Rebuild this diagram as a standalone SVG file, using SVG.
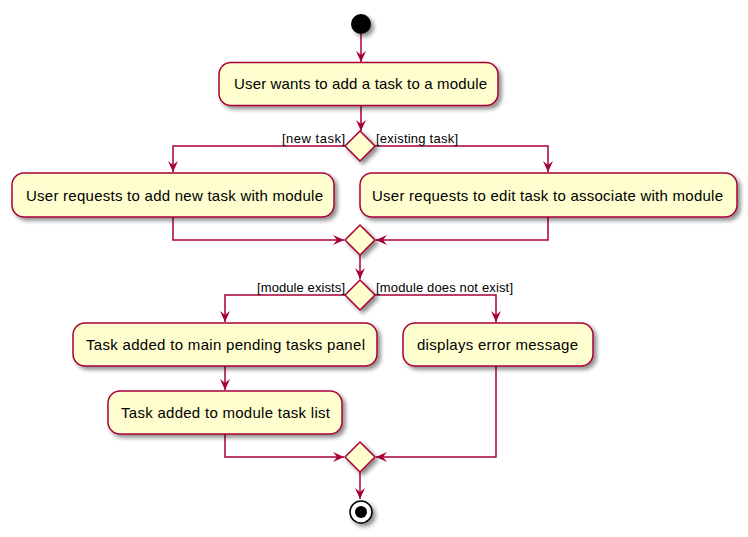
<svg xmlns="http://www.w3.org/2000/svg" width="748" height="537" viewBox="0 0 748 537">
<defs>
<filter id="sh" x="-20%" y="-20%" width="150%" height="160%">
<feGaussianBlur in="SourceAlpha" stdDeviation="2"/>
<feOffset dx="3" dy="3" result="b"/>
<feComponentTransfer in="b" result="c"><feFuncA type="linear" slope="0.45"/></feComponentTransfer>
<feMerge><feMergeNode in="c"/><feMergeNode in="SourceGraphic"/></feMerge>
</filter>
<marker id="ah" viewBox="0 0 11 10" refX="11" refY="5" markerWidth="11" markerHeight="10" markerUnits="userSpaceOnUse" orient="auto">
<path d="M0,0 L11,5 L0,10 L4,5 Z" fill="#A80036"/>
</marker>
</defs>
<style>
.n{fill:#FEFECE;stroke:#A80036;stroke-width:1.5;filter:url(#sh)}
.t{font-family:"Liberation Sans",Arial,sans-serif;font-size:15px;fill:#000;text-anchor:middle}
.l{font-family:"Liberation Sans",Arial,sans-serif;font-size:13px;fill:#000}
.c{fill:none;stroke:#A80036;stroke-width:1.5;marker-end:url(#ah)}
</style>
<rect width="748" height="537" fill="#FFFFFF"/>
<g id="connectors">
<path class="c" d="M361,34 L361,62"/>
<path class="c" d="M361,105 L361,131"/>
<path class="c" d="M345,146 L173,146 L173,172"/>
<path class="c" d="M375,146 L548,146 L548,172"/>
<path class="c" d="M173,217 L173,240 L344,240"/>
<path class="c" d="M548,217 L548,240 L376,240"/>
<path class="c" d="M360,255 L360,279"/>
<path class="c" d="M345,295 L225,295 L225,322"/>
<path class="c" d="M375,295 L496,295 L496,322"/>
<path class="c" d="M225,366 L225,390"/>
<path class="c" d="M225,434 L225,457 L344,457"/>
<path class="c" d="M496,366 L496,457 L376,457"/>
<path class="c" d="M360,472 L360,499"/>
<text class="l" x="345" y="143" text-anchor="end" textLength="63">[new task]</text>
<text class="l" x="376" y="143" textLength="82">[existing task]</text>
<text class="l" x="345" y="292" text-anchor="end" textLength="88">[module exists]</text>
<text class="l" x="376" y="292" textLength="137">[module does not exist]</text>
</g>
<g id="start"><circle cx="361" cy="24" r="10" fill="#000" filter="url(#sh)"/></g>
<g id="a1"><rect class="n" x="219" y="62.5" width="279" height="43" rx="12"/><text class="t" x="360.5" y="89" textLength="253">User wants to add a task to a module</text></g>
<g id="d1"><polygon class="n" points="360,131 375,146 360,161 345,146"/></g>
<g id="a2"><rect class="n" x="12" y="173" width="322" height="44" rx="12"/><text class="t" x="174.5" y="201" textLength="297">User requests to add new task with module</text></g>
<g id="a3"><rect class="n" x="360" y="173" width="377" height="44" rx="12"/><text class="t" x="547.5" y="201" textLength="351">User requests to edit task to associate with module</text></g>
<g id="m1"><polygon class="n" points="360,225 375,240 360,255 345,240"/></g>
<g id="d2"><polygon class="n" points="360,280 375,295 360,310 345,295"/></g>
<g id="a4"><rect class="n" x="73" y="323" width="304" height="43" rx="12"/><text class="t" x="225.5" y="350" textLength="279">Task added to main pending tasks panel</text></g>
<g id="a5"><rect class="n" x="403" y="323" width="190" height="43" rx="12"/><text class="t" x="497.5" y="350" textLength="161">displays error message</text></g>
<g id="a6"><rect class="n" x="108" y="391" width="234" height="43" rx="12"/><text class="t" x="225.5" y="418" textLength="209">Task added to module task list</text></g>
<g id="m2"><polygon class="n" points="360,442 375,457 360,472 345,457"/></g>
<g id="end"><circle cx="361" cy="512" r="11" fill="#FFFFFF" stroke="#000" stroke-width="1.5" filter="url(#sh)"/><circle cx="361" cy="512" r="6" fill="#000"/></g>
</svg>
